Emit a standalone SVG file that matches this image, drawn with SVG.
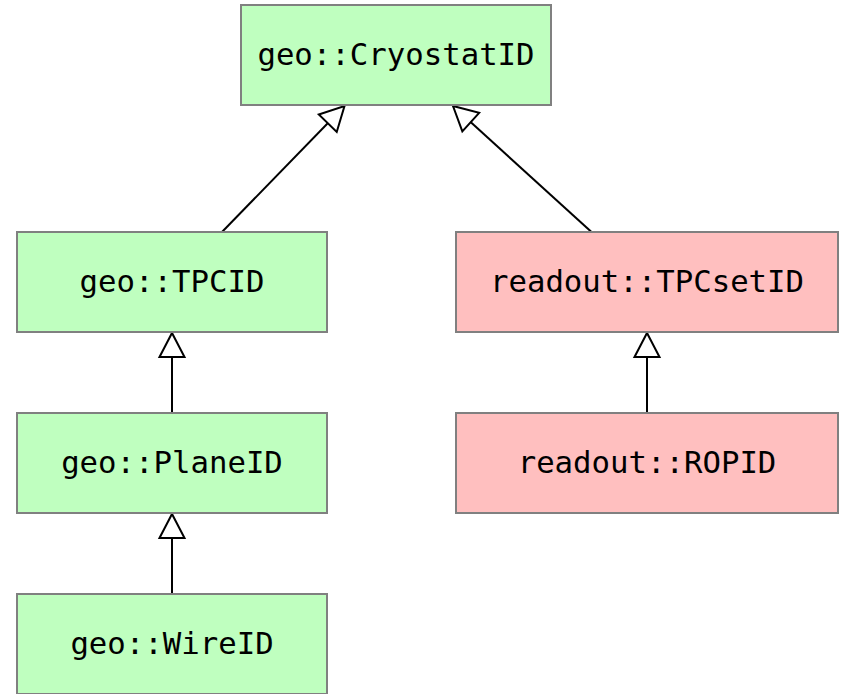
<svg xmlns="http://www.w3.org/2000/svg" width="842" height="694" viewBox="0 0 842 694">
  <style>
    .box { stroke: #808080; stroke-width: 2; }
    .geo { fill: #bfffbf; }
    .ro { fill: #ffbfbf; }
    .label { font-family: "DejaVu Sans Mono", "Liberation Mono", monospace; font-size: 30.7px; fill: #000; text-anchor: middle; }
    .edge { stroke: #000; stroke-width: 2; fill: none; marker-end: url(#inherit); }
  </style>
  <defs>
    <!-- hollow inheritance arrowhead, tip sits on the line end -->
    <marker id="inherit" markerUnits="userSpaceOnUse" viewBox="-2 -16 30 32" markerWidth="30" markerHeight="32" refX="25" refY="0" orient="auto">
      <path d="M1,-12.5 L25,0 L1,12.5 Z" fill="#fff" stroke="#000" stroke-width="2"/>
    </marker>
  </defs>
  <rect width="842" height="694" fill="#fff"/>

  <g id="connectors">
    <line class="edge" x1="222" y1="232" x2="344.5" y2="106"/>
    <line class="edge" x1="591.5" y1="232" x2="453" y2="106"/>
    <line class="edge" x1="172" y1="413" x2="172" y2="333"/>
    <line class="edge" x1="172" y1="594" x2="172" y2="514"/>
    <line class="edge" x1="647" y1="413" x2="647" y2="333"/>
  </g>

  <g id="geo_CryostatID">
    <rect class="box geo" x="241" y="5" width="310" height="100"/>
    <text class="label" x="396" y="65">geo::CryostatID</text>
  </g>
  <g id="geo_TPCID">
    <rect class="box geo" x="17" y="232" width="310" height="100"/>
    <text class="label" x="172" y="292">geo::TPCID</text>
  </g>
  <g id="readout_TPCsetID">
    <rect class="box ro" x="456" y="232" width="382" height="100"/>
    <text class="label" x="647" y="292">readout::TPCsetID</text>
  </g>
  <g id="geo_PlaneID">
    <rect class="box geo" x="17" y="413" width="310" height="100"/>
    <text class="label" x="172" y="473">geo::PlaneID</text>
  </g>
  <g id="readout_ROPID">
    <rect class="box ro" x="456" y="413" width="382" height="100"/>
    <text class="label" x="647" y="473">readout::ROPID</text>
  </g>
  <g id="geo_WireID">
    <rect class="box geo" x="17" y="594" width="310" height="100"/>
    <text class="label" x="172" y="654">geo::WireID</text>
  </g>
</svg>
